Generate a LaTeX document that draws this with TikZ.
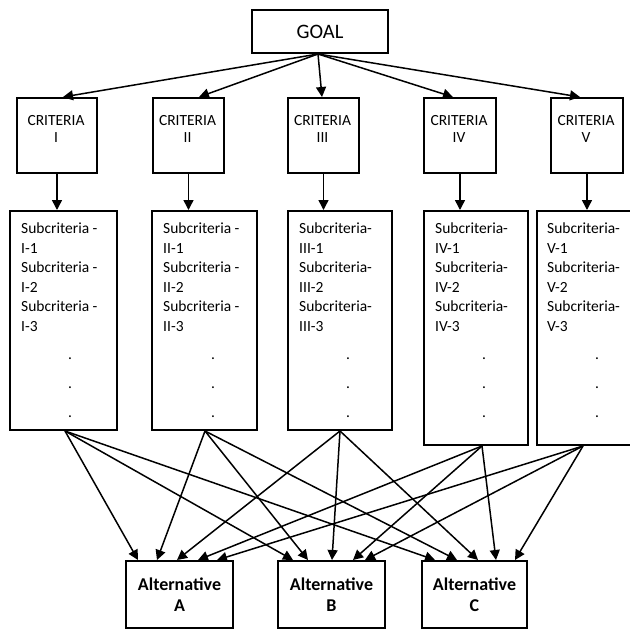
\documentclass[tikz,border=0pt]{standalone}
\usepackage{fontspec}
\setmainfont{Carlito}
\usetikzlibrary{arrows.meta,calc}
\begin{document}
\begin{tikzpicture}[x=1pt,y=-1pt,
  box/.style={draw, line width=2pt, inner sep=0pt},
  arr/.style={line width=1.5pt, -{Triangle[length=10pt,width=10pt]}},
  crit/.style={font=\fontsize{15.5}{17}\selectfont, align=center, inner sep=0pt},
  subtxt/.style={font=\fontsize{15.5}{19.5}\selectfont, align=left, inner sep=0pt, anchor=north west},
  dotstxt/.style={font=\fontsize{15.5}{29}\selectfont, align=center, inner sep=0pt},
  alttxt/.style={font=\bfseries\fontsize{18}{21}\selectfont, align=center, inner sep=0pt}]
\clip (0,0) rectangle (630,630);
\useasboundingbox (0,0) rectangle (630,630);

% goal
\node[box, minimum width=136pt, minimum height=43pt, font=\fontsize{20.5}{22}\selectfont] (goal) at (320,31.5) {GOAL};

% criteria
\foreach \i/\x/\w/\r in {1/57/80/I, 2/188.5/71/II, 3/323.5/71/III, 4/460/72/IV, 5/587/72/V} {
  \node[box, minimum width=\w pt, minimum height=75pt] (c\i) at (\x,135.5) {};
  \node[crit] (ct\i) at (\x-1,128.5) {CRITERIA\\\r};
}

% subcriteria boxes
\node[box, minimum width=107pt, minimum height=219pt] (s1) at (63.5,320.5) {};
\node[box, minimum width=105pt, minimum height=219pt] (s2) at (204.5,320.5) {};
\node[box, minimum width=104pt, minimum height=219pt] (s3) at (340,320.5) {};
\node[box, minimum width=104pt, minimum height=234pt] (s4) at (476,328) {};
\node[box, minimum width=104pt, minimum height=234pt] (s5) at (589,328) {};

\node[subtxt] (st1) at (21,223) {Subcriteria -\\I-1\\Subcriteria -\\I-2\\Subcriteria -\\I-3};
\node[subtxt] (st2) at (163,223) {Subcriteria -\\II-1\\Subcriteria -\\II-2\\Subcriteria -\\II-3};
\node[subtxt] (st3) at (299,223) {Subcriteria-\\III-1\\Subcriteria-\\III-2\\Subcriteria-\\III-3};
\node[subtxt] (st4) at (435,223) {Subcriteria-\\IV-1\\Subcriteria-\\IV-2\\Subcriteria-\\IV-3};
\node[subtxt] (st5) at (547,223) {Subcriteria-\\V-1\\Subcriteria-\\V-2\\Subcriteria-\\V-3};

\foreach \i/\x in {1/70,2/213,3/348,4/484,5/597} {
  \node[dotstxt] (d\i) at (\x,388) {.\\.\\.};
}

% alternatives
\node[box, minimum width=107pt, minimum height=67pt, alttxt] (altA) at (179.5,594.5) {Alternative\\A};
\node[box, minimum width=107pt, minimum height=67pt, alttxt] (altB) at (331.5,594.5) {Alternative\\B};
\node[box, minimum width=105pt, minimum height=67pt, alttxt] (altC) at (474.5,594.5) {Alternative\\C};

% goal -> criteria
\foreach \i/\o in {1/6,2/10.5,3/-1.5,4/-7,5/-7} {
  \draw[arr] ([xshift=-2pt]goal.south) -- ([xshift=\o pt]c\i.north);
}
% criteria -> subcriteria
\foreach \i in {1,...,5} {
  \draw[arr] (c\i.south) -- (c\i.south |- s\i.north);
}
% subcriteria -> alternatives
\foreach \i/\o/\ta/\tb/\tc in {1/1.5/-41.5/-38.5/-39.5, 2/0.5/-22.5/-23.5/-17.5, 3/0/-2.5/0.5/3.5, 4/6/18.5/21.5/21.5, 5/-6/37.5/33.5/40.5} {
  \draw[arr] ([xshift=\o pt]s\i.south) -- ([xshift=\ta pt]altA.north);
  \draw[arr] ([xshift=\o pt]s\i.south) -- ([xshift=\tb pt]altB.north);
  \draw[arr] ([xshift=\o pt]s\i.south) -- ([xshift=\tc pt]altC.north);
}
\end{tikzpicture}
\end{document}
